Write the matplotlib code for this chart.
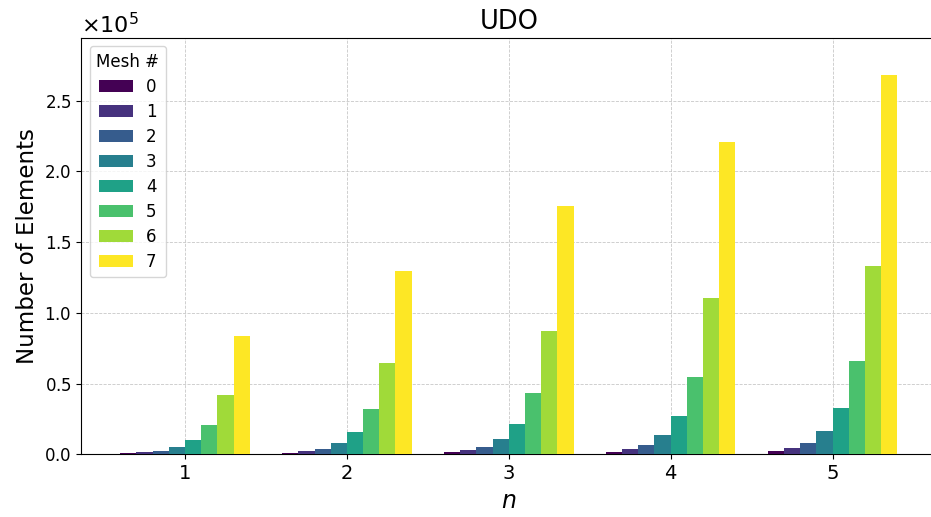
import numpy as np
import matplotlib
matplotlib.use("Agg")
from matplotlib import pyplot as plt

# number of elements per mesh (rows) for n = 1..5 (columns)
n_vals = [1, 2, 3, 4, 5]
mesh_ids = [0, 1, 2, 3, 4, 5, 6, 7]
mesh0 = [650, 1000, 1350, 1700, 2100]
mesh1 = [1300, 2000, 2700, 3400, 4100]
mesh2 = [2600, 4000, 5400, 6900, 8200]
mesh3 = [5200, 8000, 10800, 13700, 16400]
mesh4 = [10400, 16100, 21700, 27300, 32600]
mesh5 = [20800, 32300, 43600, 54900, 65900]
mesh6 = [41800, 64700, 87400, 110200, 133200]
mesh7 = [83800, 129600, 175300, 220400, 267700]
counts = [mesh0, mesh1, mesh2, mesh3, mesh4, mesh5, mesh6, mesh7]

fig = plt.figure(figsize=(9.31, 5.17), dpi=100)
ax = fig.add_axes([0.0875, 0.1213, 0.918, 0.806])

colors = plt.cm.viridis(np.linspace(0, 1, len(mesh_ids)))
width = 0.1
x = np.array(n_vals, dtype=float)
for i, m in enumerate(mesh_ids):
    ax.bar(x + (i - 3.5) * width, counts[i], width, color=colors[i], label=str(m), zorder=3)

ax.set_xticks(n_vals)
ax.set_ylim(0, 1.1 * max(mesh7))
ax.grid(True, linestyle='--', linewidth=0.6, color='#c8c8c8', zorder=0)
ax.ticklabel_format(axis='y', style='sci', scilimits=(0, 0), useMathText=True)
ax.yaxis.get_offset_text().set_fontsize(16)
ax.tick_params(axis='x', labelsize=14)
ax.tick_params(axis='y', labelsize=12)

ax.set_title('UDO', fontsize=18.5)
ax.set_xlabel('$n$', fontsize=17)
ax.set_ylabel('Number of Elements', fontsize=16.5)
ax.legend(title='Mesh #', loc='upper left', fontsize=12, title_fontsize=12,
          labelspacing=0.42)

fig.savefig('out.png', dpi=100)
